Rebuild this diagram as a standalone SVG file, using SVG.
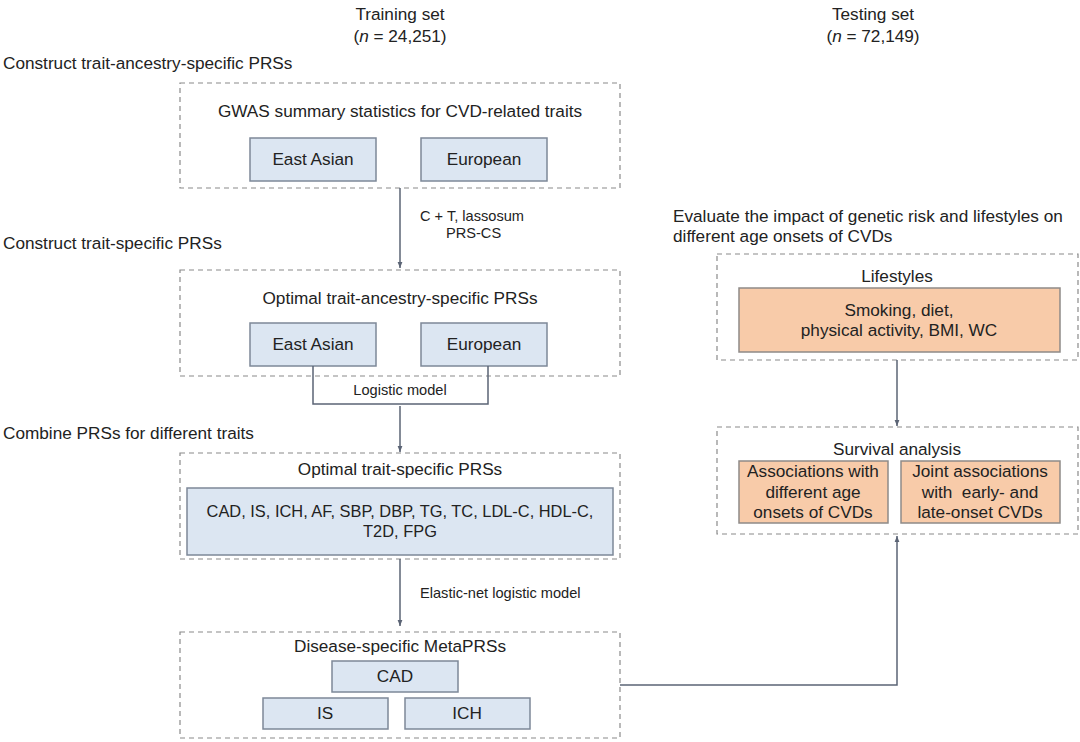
<svg xmlns="http://www.w3.org/2000/svg" width="1080" height="742" viewBox="0 0 1080 742">
<style>
text{font-family:"Liberation Sans",Arial,sans-serif;fill:#222;}
.h{font-size:17.2px;text-anchor:middle;}
.s{font-size:17.2px;}
.t{font-size:17.2px;text-anchor:middle;}
.sm{font-size:14.6px;}
.dash{fill:none;stroke:#8a8a8a;stroke-width:1.2;stroke-dasharray:5,4;}
.blue{fill:#dce6f2;stroke:#7d8898;stroke-width:1.5;}
.org{fill:#f8cba9;stroke:#8e8a88;stroke-width:1.5;}
.ln{fill:none;stroke:#5b6475;stroke-width:1.5;}
</style>
<defs>
<marker id="ah" viewBox="0 0 10 10" refX="10" refY="5" markerWidth="6" markerHeight="6" orient="auto" markerUnits="userSpaceOnUse">
<path d="M0,1 L10,5 L0,9 z" fill="#5b6475"/>
</marker>
</defs>
<rect width="1080" height="742" fill="#fff"/>

<g id="headers">
<text class="h" x="400" y="20">Training set</text>
<text class="h" x="400" y="42">(<tspan font-style="italic">n</tspan> = 24,251)</text>
<text class="h" x="873" y="20">Testing set</text>
<text class="h" x="873" y="42">(<tspan font-style="italic">n</tspan> = 72,149)</text>
<text class="s" x="3" y="69">Construct trait-ancestry-specific PRSs</text>
<text class="s" x="3" y="249">Construct trait-specific PRSs</text>
<text class="s" x="3" y="439">Combine PRSs for different traits</text>
<text class="s" x="673" y="222">Evaluate the impact of genetic risk and lifestyles on</text>
<text class="s" x="673" y="242">different age onsets of CVDs</text>
</g>

<g id="gwas">
<rect class="dash" x="180" y="83" width="440" height="105"/>
<text class="t" x="400" y="117">GWAS summary statistics for CVD-related traits</text>
<rect class="blue" x="250" y="138" width="126" height="43"/>
<text class="t" x="313" y="165">East Asian</text>
<rect class="blue" x="421" y="138" width="126" height="43"/>
<text class="t" x="484" y="165">European</text>
</g>

<g id="optimal-ancestry">
<rect class="dash" x="180" y="270" width="440" height="106"/>
<text class="t" x="400" y="304">Optimal trait-ancestry-specific PRSs</text>
<rect class="blue" x="250" y="323" width="126" height="43"/>
<text class="t" x="313" y="350">East Asian</text>
<rect class="blue" x="421" y="323" width="126" height="43"/>
<text class="t" x="484" y="350">European</text>
</g>

<g id="logistic">
<polyline class="ln" points="313,366 313,404 488,404 488,366"/>
<text class="sm" x="400" y="395" text-anchor="middle">Logistic model</text>
</g>

<g id="optimal-trait">
<rect class="dash" x="180" y="453" width="440" height="106"/>
<text class="t" x="400" y="475">Optimal trait-specific PRSs</text>
<rect class="blue" x="187" y="488" width="426" height="67"/>
<text class="t" x="400" y="517" style="font-size:16.4px">CAD, IS, ICH, AF, SBP, DBP, TG, TC, LDL-C, HDL-C,</text>
<text class="t" x="400" y="537" style="font-size:16.4px">T2D, FPG</text>
</g>

<g id="metaprs">
<rect class="dash" x="180" y="632" width="440" height="106"/>
<text class="t" x="400" y="652">Disease-specific MetaPRSs</text>
<rect class="blue" x="332" y="661" width="126" height="31"/>
<text class="t" x="395" y="682">CAD</text>
<rect class="blue" x="263" y="698" width="125" height="31"/>
<text class="t" x="325" y="719">IS</text>
<rect class="blue" x="405" y="698" width="125" height="31"/>
<text class="t" x="467" y="719">ICH</text>
</g>

<g id="lifestyles">
<rect class="dash" x="717" y="254" width="361" height="106"/>
<text class="t" x="897" y="282">Lifestyles</text>
<rect class="org" x="739" y="288" width="321" height="64"/>
<text class="t" x="899" y="316">Smoking, diet,</text>
<text class="t" x="899" y="336">physical activity, BMI, WC</text>
</g>

<g id="survival">
<rect class="dash" x="717" y="427" width="361" height="107"/>
<text class="t" x="897" y="455">Survival analysis</text>
<rect class="org" x="739" y="461" width="149" height="62"/>
<text class="t" x="813" y="477">Associations with</text>
<text class="t" x="813" y="498">different age</text>
<text class="t" x="813" y="518">onsets of CVDs</text>
<rect class="org" x="901" y="461" width="159" height="62"/>
<text class="t" x="980" y="477">Joint associations</text>
<text class="t" x="980" y="498" xml:space="preserve">with  early- and</text>
<text class="t" x="980" y="518">late-onset CVDs</text>
</g>

<g id="connectors">
<line class="ln" x1="400" y1="188" x2="400" y2="268" marker-end="url(#ah)"/>
<text class="sm" x="420" y="221">C + T, lassosum</text>
<text class="sm" x="446" y="238">PRS-CS</text>
<line class="ln" x1="400" y1="406" x2="400" y2="452" marker-end="url(#ah)"/>
<line class="ln" x1="400" y1="559" x2="400" y2="626" marker-end="url(#ah)"/>
<text class="sm" x="420" y="598">Elastic-net logistic model</text>
<line class="ln" x1="897" y1="360" x2="897" y2="426" marker-end="url(#ah)"/>
<polyline class="ln" points="620,685 897,685 897,536" marker-end="url(#ah)"/>
</g>
</svg>
